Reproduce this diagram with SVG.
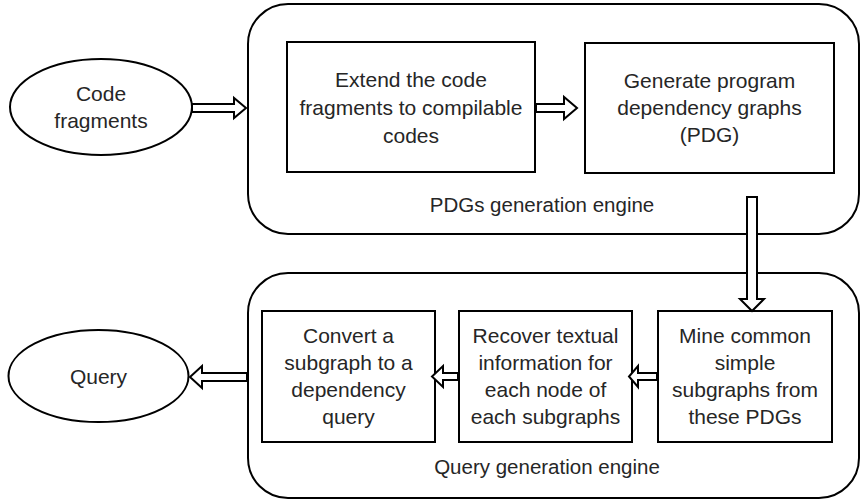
<svg xmlns="http://www.w3.org/2000/svg" width="861" height="502" viewBox="0 0 861 502">
<style>
.c{fill:#fff;stroke:#000;stroke-width:2}
.b{fill:#fff;stroke:#000;stroke-width:2}
.a{fill:#fff;stroke:#000;stroke-width:2;stroke-linejoin:miter}
text{font-family:"Liberation Sans",Arial,sans-serif;font-size:21px;fill:#262626;text-anchor:middle}
.l{font-size:20.5px}
</style>
<rect width="861" height="502" fill="#fff"/>
<g id="pdg-engine">
<rect class="c" x="248" y="4" width="611" height="230" rx="40" ry="40"/>
<text class="l" x="542" y="212">PDGs generation engine</text>
</g>
<g id="query-engine">
<rect class="c" x="248" y="273" width="611" height="225" rx="40" ry="40"/>
<text class="l" x="547" y="474">Query generation engine</text>
</g>
<g id="code-fragments">
<ellipse class="b" cx="101" cy="107" rx="91" ry="48"/>
<text x="101" y="101">Code</text>
<text x="101" y="128">fragments</text>
</g>
<g id="extend">
<rect class="b" x="287" y="42" width="248" height="130"/>
<text x="411" y="87">Extend the code</text>
<text x="411" y="115">fragments to compilable</text>
<text x="411" y="143">codes</text>
</g>
<g id="generate">
<rect class="b" x="585" y="43" width="249" height="130"/>
<text x="709.5" y="88">Generate program</text>
<text x="709.5" y="115">dependency graphs</text>
<text x="709.5" y="142">(PDG)</text>
</g>
<g id="mine">
<rect class="b" x="658" y="311" width="174" height="131"/>
<text x="745" y="343">Mine common</text>
<text x="745" y="370">simple</text>
<text x="745" y="397">subgraphs from</text>
<text x="745" y="424">these PDGs</text>
</g>
<g id="recover">
<rect class="b" x="459" y="311" width="173" height="131"/>
<text x="545.5" y="343">Recover textual</text>
<text x="545.5" y="370">information for</text>
<text x="545.5" y="397">each node of</text>
<text x="545.5" y="424">each subgraphs</text>
</g>
<g id="convert">
<rect class="b" x="262" y="311" width="173" height="131"/>
<text x="348.5" y="343">Convert a</text>
<text x="348.5" y="370">subgraph to a</text>
<text x="348.5" y="397">dependency</text>
<text x="348.5" y="424">query</text>
</g>
<g id="query">
<ellipse class="b" cx="98.5" cy="376" rx="90" ry="46"/>
<text x="98.5" y="384">Query</text>
</g>
<g id="connectors">
<polygon class="a" points="192,104 234,104 234,98 246,108 234,118 234,112 192,112"/>
<polygon class="a" points="536,104 564,104 564,97 577,108 564,119 564,112 536,112"/>
<polygon class="a" points="747,197 757,197 757,299 764,299 752,311 740,299 747,299"/>
<polygon class="a" points="657,373 638,373 638,366 629,376.5 638,387 638,380 657,380"/>
<polygon class="a" points="458,373 443,373 443,366 432,376.5 443,387 443,380 458,380"/>
<polygon class="a" points="247,373 202,373 202,366 190,377 202,388 202,381 247,381"/>
</g>
</svg>
